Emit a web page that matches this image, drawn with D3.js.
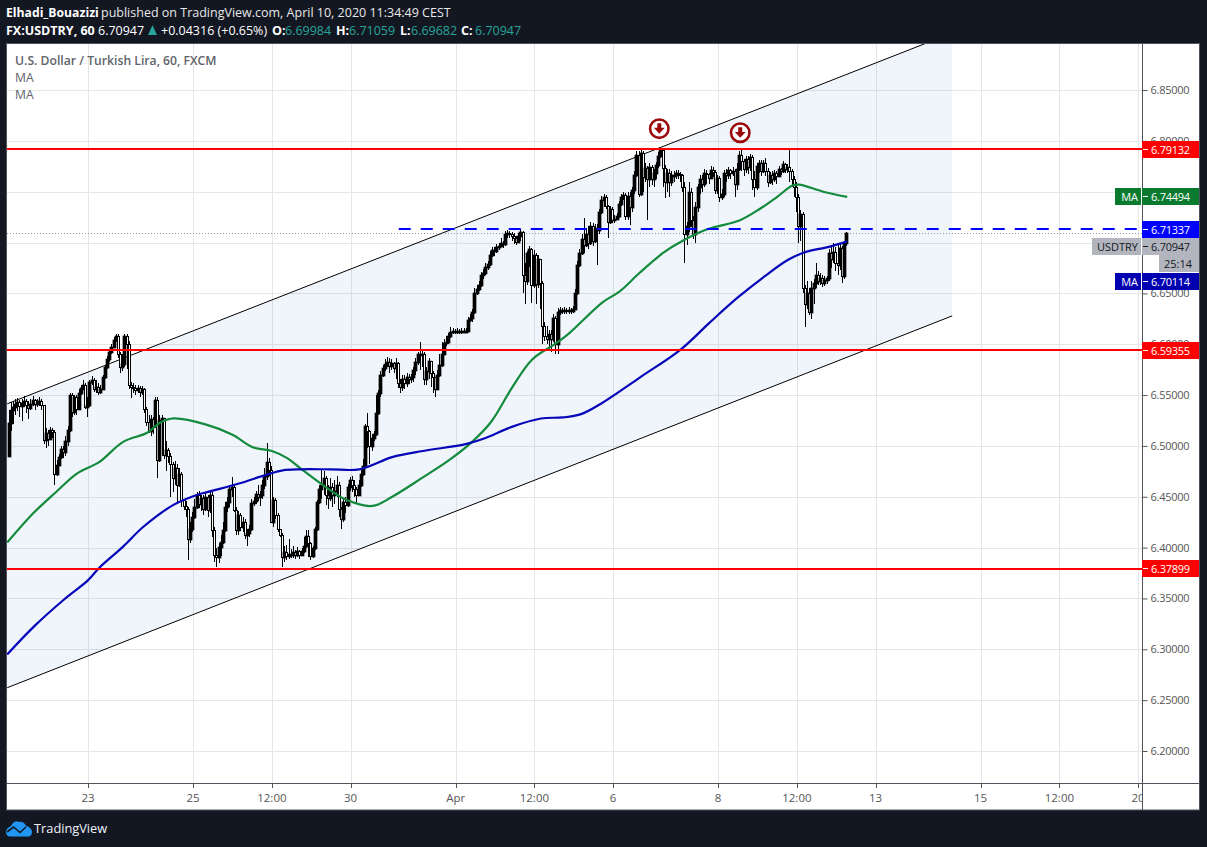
<!DOCTYPE html>
<html><head><meta charset="utf-8">
<script src="https://cdnjs.cloudflare.com/ajax/libs/d3/7.8.5/d3.min.js"></script>
<style>html,body{margin:0;padding:0;background:#131722}svg{display:block}text{font-family:"Open Sans",sans-serif}</style>
</head><body><div id="chart"></div>
<script>
const closes=[
6.523,6.535,6.538,6.541,6.543,6.539,6.542,6.544,6.540,6.537,6.541,6.545,6.541,6.542,6.544,6.540,
6.506,6.513,6.507,6.516,6.514,6.472,6.481,6.489,6.497,6.494,6.505,6.516,6.550,6.533,6.548,6.536,
6.552,6.557,6.560,6.538,6.540,6.563,6.565,6.556,6.558,6.553,6.556,6.568,6.578,6.585,6.592,6.597,
6.604,6.608,6.590,6.578,6.581,6.608,6.600,6.560,6.558,6.557,6.555,6.557,6.553,6.556,6.536,6.524,
6.515,6.526,6.520,6.545,6.486,6.525,6.527,6.491,6.496,6.490,6.482,6.468,6.478,6.462,6.472,6.447,
6.441,6.438,6.408,6.418,6.430,6.440,6.452,6.443,6.449,6.438,6.450,6.437,6.452,6.417,6.393,6.391,
6.401,6.406,6.417,6.440,6.445,6.458,6.460,6.437,6.417,6.432,6.420,6.425,6.412,6.414,6.418,6.444,
6.446,6.453,6.450,6.452,6.462,6.470,6.484,6.476,6.425,6.447,6.432,6.418,6.412,6.391,6.396,6.392,
6.394,6.393,6.396,6.393,6.397,6.393,6.397,6.402,6.411,6.405,6.392,6.400,6.418,6.445,6.458,6.462,
6.468,6.452,6.449,6.460,6.452,6.456,6.462,6.438,6.428,6.445,6.442,6.460,6.466,6.462,6.458,6.452,
6.462,6.472,6.480,6.520,6.515,6.500,6.508,6.512,6.532,6.552,6.570,6.577,6.581,6.583,6.579,6.582,
6.577,6.582,6.562,6.558,6.566,6.562,6.568,6.566,6.568,6.575,6.583,6.590,6.589,6.590,6.566,6.574,
6.584,6.572,6.568,6.556,6.570,6.580,6.590,6.601,6.602,6.608,6.612,6.613,6.612,6.613,6.612,6.613,
6.613,6.613,6.624,6.626,6.632,6.650,6.654,6.658,6.668,6.670,6.676,6.679,6.688,6.693,6.692,6.696,
6.697,6.700,6.699,6.708,6.709,6.708,6.706,6.704,6.701,6.706,6.710,6.668,6.662,6.690,6.694,6.658,
6.688,6.659,6.684,6.660,6.618,6.608,6.605,6.610,6.605,6.626,6.600,6.632,6.634,6.633,6.634,6.633,
6.634,6.633,6.635,6.650,6.678,6.690,6.703,6.698,6.708,6.700,6.716,6.702,6.714,6.712,6.730,6.742,
6.745,6.736,6.720,6.733,6.722,6.723,6.726,6.738,6.745,6.747,6.726,6.746,6.735,6.752,6.766,6.786,
6.748,6.788,6.764,6.773,6.762,6.774,6.762,6.768,6.776,6.785,6.791,6.773,6.760,6.768,6.760,6.766,
6.766,6.768,6.767,6.766,6.755,6.708,6.716,6.750,6.722,6.708,6.735,6.755,6.762,6.758,6.768,6.767,
6.763,6.771,6.769,6.752,6.763,6.745,6.748,6.768,6.766,6.771,6.768,6.770,6.758,6.772,6.786,6.780,
6.772,6.782,6.774,6.784,6.762,6.755,6.775,6.778,6.770,6.778,6.770,6.760,6.766,6.762,6.768,6.765,
6.772,6.770,6.777,6.772,6.774,6.770,6.762,6.755,6.745,6.716,6.728,6.655,6.640,6.650,6.632,6.655,
6.660,6.668,6.662,6.665,6.660,6.663,6.665,6.690,6.684,6.691,6.680,6.678,6.695,6.667,6.69984,6.70947];
const highs=[
6.535,6.543,6.544,6.546,6.547,6.545,6.546,6.549,6.546,6.544,6.546,6.549,6.546,6.546,6.548,6.546,
6.540,6.518,6.516,6.519,6.518,6.516,6.486,6.492,6.500,6.500,6.510,6.520,6.552,6.552,6.550,6.550,
6.556,6.560,6.565,6.562,6.548,6.565,6.569,6.567,6.565,6.562,6.560,6.570,6.580,6.588,6.595,6.600,
6.607,6.610,6.610,6.592,6.590,6.610,6.610,6.603,6.563,6.562,6.560,6.560,6.559,6.559,6.557,6.538,
6.530,6.530,6.528,6.548,6.548,6.530,6.530,6.527,6.505,6.498,6.493,6.484,6.485,6.482,6.478,6.474,
6.447,6.446,6.440,6.425,6.435,6.448,6.455,6.456,6.452,6.452,6.454,6.452,6.455,6.455,6.420,6.400,
6.405,6.412,6.425,6.445,6.450,6.462,6.469,6.462,6.440,6.436,6.434,6.430,6.428,6.418,6.422,6.448,
6.450,6.456,6.462,6.456,6.466,6.478,6.503,6.488,6.480,6.450,6.449,6.434,6.416,6.414,6.402,6.403,
6.408,6.399,6.402,6.398,6.401,6.398,6.400,6.410,6.417,6.417,6.406,6.402,6.420,6.447,6.462,6.476,
6.475,6.470,6.462,6.468,6.464,6.466,6.470,6.465,6.440,6.448,6.450,6.463,6.469,6.470,6.466,6.460,
6.466,6.476,6.487,6.522,6.532,6.516,6.512,6.515,6.550,6.555,6.574,6.580,6.585,6.587,6.586,6.585,
6.583,6.586,6.583,6.566,6.570,6.570,6.572,6.571,6.571,6.578,6.586,6.592,6.602,6.595,6.592,6.578,
6.586,6.584,6.574,6.566,6.575,6.590,6.602,6.605,6.608,6.611,6.617,6.616,6.615,6.616,6.615,6.616,
6.616,6.616,6.627,6.630,6.635,6.655,6.658,6.662,6.671,6.674,6.680,6.682,6.692,6.696,6.696,6.699,
6.700,6.704,6.702,6.711,6.712,6.711,6.710,6.709,6.706,6.709,6.713,6.711,6.680,6.692,6.697,6.695,
6.693,6.690,6.688,6.684,6.662,6.622,6.618,6.614,6.614,6.630,6.628,6.636,6.637,6.636,6.637,6.636,
6.637,6.636,6.638,6.654,6.682,6.694,6.708,6.724,6.714,6.716,6.720,6.719,6.718,6.718,6.733,6.746,
6.748,6.747,6.737,6.736,6.735,6.727,6.729,6.741,6.748,6.750,6.749,6.750,6.750,6.755,6.770,6.790,
6.790,6.793,6.790,6.778,6.775,6.778,6.776,6.772,6.779,6.789,6.794,6.792,6.776,6.772,6.772,6.770,
6.770,6.771,6.771,6.769,6.767,6.760,6.720,6.760,6.754,6.726,6.740,6.758,6.766,6.766,6.772,6.771,
6.768,6.775,6.774,6.771,6.766,6.765,6.753,6.771,6.772,6.774,6.772,6.774,6.772,6.778,6.790,6.792,
6.782,6.785,6.785,6.787,6.786,6.770,6.778,6.781,6.781,6.781,6.783,6.773,6.769,6.770,6.771,6.770,
6.775,6.773,6.780,6.778,6.777,6.792,6.772,6.765,6.760,6.748,6.732,6.730,6.658,6.662,6.655,6.662,
6.664,6.680,6.672,6.670,6.668,6.667,6.667,6.694,6.697,6.700,6.696,6.698,6.699,6.697,6.702,6.71059];
const lows=[
6.490,6.515,6.522,6.530,6.534,6.528,6.525,6.538,6.532,6.526,6.535,6.539,6.535,6.538,6.539,6.535,
6.502,6.498,6.500,6.510,6.508,6.462,6.470,6.480,6.487,6.488,6.490,6.500,6.514,6.528,6.530,6.530,
6.546,6.550,6.555,6.536,6.528,6.538,6.560,6.553,6.552,6.550,6.551,6.555,6.566,6.576,6.583,6.590,
6.600,6.602,6.586,6.572,6.574,6.578,6.576,6.556,6.547,6.552,6.550,6.552,6.548,6.550,6.532,6.520,
6.513,6.510,6.512,6.518,6.468,6.484,6.490,6.487,6.475,6.483,6.450,6.455,6.462,6.445,6.460,6.440,
6.437,6.430,6.388,6.405,6.415,6.428,6.438,6.439,6.436,6.432,6.436,6.430,6.434,6.410,6.386,6.381,
6.385,6.392,6.404,6.415,6.435,6.440,6.450,6.435,6.412,6.412,6.416,6.415,6.408,6.402,6.410,6.416,
6.441,6.443,6.446,6.441,6.448,6.458,6.466,6.470,6.424,6.420,6.428,6.415,6.410,6.381,6.386,6.388,
6.389,6.390,6.390,6.389,6.391,6.389,6.392,6.395,6.400,6.391,6.388,6.390,6.398,6.416,6.443,6.448,
6.452,6.442,6.438,6.446,6.440,6.443,6.450,6.430,6.418,6.425,6.434,6.440,6.456,6.455,6.450,6.443,
6.452,6.460,6.470,6.478,6.498,6.482,6.495,6.505,6.510,6.530,6.548,6.568,6.574,6.578,6.572,6.575,
6.572,6.566,6.557,6.552,6.554,6.556,6.558,6.561,6.562,6.563,6.570,6.580,6.575,6.578,6.560,6.560,
6.566,6.558,6.552,6.548,6.555,6.568,6.578,6.590,6.598,6.600,6.606,6.610,6.610,6.610,6.610,6.610,
6.611,6.611,6.612,6.622,6.622,6.630,6.648,6.652,6.656,6.664,6.668,6.673,6.677,6.686,6.687,6.690,
6.693,6.696,6.695,6.697,6.704,6.704,6.702,6.699,6.698,6.700,6.702,6.650,6.640,6.658,6.676,6.641,
6.655,6.640,6.655,6.635,6.600,6.603,6.600,6.593,6.592,6.602,6.590,6.590,6.629,6.630,6.630,6.630,
6.630,6.630,6.631,6.634,6.648,6.676,6.688,6.690,6.696,6.694,6.698,6.697,6.700,6.678,6.708,6.728,
6.735,6.733,6.704,6.718,6.719,6.719,6.722,6.724,6.736,6.742,6.722,6.722,6.717,6.730,6.748,6.764,
6.745,6.746,6.750,6.760,6.722,6.755,6.757,6.755,6.762,6.773,6.783,6.755,6.744,6.750,6.745,6.756,
6.760,6.762,6.762,6.760,6.750,6.680,6.698,6.710,6.715,6.703,6.700,6.730,6.748,6.750,6.755,6.758,
6.758,6.762,6.764,6.748,6.748,6.740,6.742,6.745,6.760,6.762,6.762,6.765,6.745,6.752,6.770,6.770,
6.765,6.768,6.767,6.770,6.752,6.745,6.752,6.768,6.765,6.768,6.765,6.755,6.758,6.757,6.760,6.758,
6.765,6.766,6.768,6.768,6.768,6.760,6.755,6.745,6.730,6.700,6.702,6.650,6.617,6.635,6.629,6.625,
6.640,6.655,6.658,6.658,6.656,6.657,6.659,6.662,6.675,6.680,6.672,6.668,6.673,6.660,6.664,6.69682];
const firstOpen=6.490;
const firstBar=0.6;

const greenBars=[0,12,22,32,42,53,64,70,76,91,103,112,121,128,134,144,155,167,176,190,202,212,221,231,240,251,257,272,280,289,300,309,320,335,344,352,359,362,373,384];
const greenValues=[6.405,6.434,6.454,6.473,6.484,6.504,6.513,6.523,6.527,6.521,6.511,6.499,6.495,6.488,6.478,6.462,6.447,6.441,6.450,6.469,6.486,6.503,6.523,6.558,6.585,6.601,6.611,6.641,6.652,6.670,6.690,6.702,6.713,6.722,6.733,6.745,6.756,6.757,6.750,6.74494];
const blueBars=[0,13,26,37,42,53,62,76,87,94,106,119,126,134,148,161,176,190,210,219,231,244,254,262,271,289,308,321,334,347,357,364,376,384];
const blueValues=[6.295,6.324,6.349,6.368,6.380,6.401,6.420,6.442,6.452,6.456,6.463,6.472,6.476,6.477,6.477,6.477,6.489,6.495,6.502,6.508,6.519,6.527,6.528,6.531,6.541,6.567,6.595,6.621,6.646,6.668,6.683,6.690,6.696,6.70114];

const channelBars=[0,432];
const channelUpper=[6.5414,6.9061];
const channelLower=[6.2622,6.6279];
const levelLines=[6.79132,6.59355,6.37899];
const dashedLevel=6.71337, dashedStartBar=179;
const lastPrice=6.70947;
const markBars=[297.5,334.5], markPrices=[6.812,6.808];

const priceTicks=[6.20,6.25,6.30,6.35,6.40,6.45,6.50,6.55,6.60,6.65,6.70,6.75,6.80,6.85];
const timeBars=[37,85,121,157,205,241,277,325,361,397,445,481,517];
const timeLabels=["23","25","12:00","30","Apr","12:00","6","8","12:00","13","15","12:00","20"];

const W=1207,H=847,L=7,R=1142,T=44,B=783,AR=1199,AB=810;
const x=d3.scaleLinear().domain([0,518]).range([7.2,7.2+518*2.1875]);
const y=d3.scaleLinear().domain([6.20,6.85]).range([751,90]);
const crisp=p=>Math.round(y(p)-0.4);
const svg=d3.select("#chart").append("svg").attr("width",W).attr("height",H);
const defs=svg.append("defs");
defs.append("clipPath").attr("id","pane").append("rect").attr("x",L).attr("y",T).attr("width",R-L).attr("height",B-T);
defs.append("clipPath").attr("id","taxis").append("rect").attr("x",L).attr("y",B).attr("width",R-L).attr("height",AB-B);

svg.append("rect").attr("width",W).attr("height",H).attr("fill","#131722");
svg.append("rect").attr("x",6.5).attr("y",43.5).attr("width",AR-6).attr("height",AB-43.5).attr("fill","#fff").attr("stroke","#50535e");

const pane=svg.append("g").attr("clip-path","url(#pane)");
pane.selectAll("line.hg").data(priceTicks).join("line").attr("x1",L).attr("x2",R).attr("y1",d=>Math.round(y(d))+.5).attr("y2",d=>Math.round(y(d))+.5).attr("stroke","#e6e6e6");
pane.selectAll("line.vg").data(timeBars).join("line").attr("y1",T).attr("y2",B).attr("x1",d=>Math.round(x(d))+.5).attr("x2",d=>Math.round(x(d))+.5).attr("stroke","#e6e6e6");

// channel
const chPoly=[[channelBars[0],channelUpper[0]],[channelBars[1],channelUpper[1]],[channelBars[1],channelLower[1]],[channelBars[0],channelLower[0]]];
pane.append("path").attr("d","M"+chPoly.map(p=>[x(p[0]),y(p[1])].join(",")).join("L")+"Z").attr("fill","#0558cd").attr("fill-opacity",0.06);
[channelUpper,channelLower].forEach(a=>pane.append("line").attr("x1",x(channelBars[0])).attr("y1",y(a[0])).attr("x2",x(channelBars[1])).attr("y2",y(a[1])).attr("stroke","#000").attr("stroke-width",1));

// last price dotted
pane.append("line").attr("x1",L).attr("x2",R).attr("y1",Math.round(y(lastPrice))+.5).attr("y2",Math.round(y(lastPrice))+.5).attr("stroke","#9598a1").attr("stroke-dasharray","1,2");

// candles
const n=Math.min(closes.length,highs.length,lows.length);
const cg=pane.append("g");
d3.range(n).forEach(i=>{
  const o=i?closes[i-1]:firstOpen,c=closes[i],cx=Math.round(x(i+firstBar));
  const top=Math.round(y(Math.max(o,c))),bot=Math.round(y(Math.min(o,c))),up=c>=o;
  cg.append("line").attr("x1",cx+.5).attr("x2",cx+.5).attr("y1",y(Math.max(highs[i],o,c))).attr("y2",y(Math.min(lows[i],o,c))).attr("stroke","#000").attr("shape-rendering","crispEdges");
  cg.append("rect").attr("x",cx-.5).attr("y",top+.5).attr("width",2).attr("height",Math.max(bot-top,1))
    .attr("fill",up?"#000":"#fff").attr("stroke","#000").attr("stroke-width",up?1.7:1).attr("shape-rendering",up?"auto":"crispEdges");
});

// moving averages
const maLine=d3.line().x(d=>x(d[0])).y(d=>y(d[1])).curve(d3.curveCatmullRom.alpha(.5));
pane.append("path").attr("d",maLine(greenBars.map((b,i)=>[b,greenValues[i]]))).attr("fill","none").attr("stroke","#138a3c").attr("stroke-width",2.2);
pane.append("path").attr("d",maLine(blueBars.map((b,i)=>[b,blueValues[i]]))).attr("fill","none").attr("stroke","#0606b8").attr("stroke-width",2.2);

// levels
pane.selectAll("line.lv").data(levelLines).join("line").attr("x1",L).attr("x2",R).attr("y1",crisp).attr("y2",crisp).attr("stroke","#ff0000").attr("stroke-width",2);
pane.append("line").attr("x1",x(dashedStartBar)).attr("x2",R).attr("y1",crisp(dashedLevel)).attr("y2",crisp(dashedLevel)).attr("stroke","#0000ff").attr("stroke-width",2).attr("stroke-dasharray","12,10");

// arrow marks
markBars.forEach((b,i)=>{
  const g=pane.append("g").attr("transform",`translate(${x(b+firstBar)},${y(markPrices[i])})`);
  g.append("circle").attr("r",9.2).attr("fill","#fff").attr("stroke","#9b0a0a").attr("stroke-width",2.6);
  g.append("path").attr("d","M-2,-5.5H2V-0.8H5.4L0,5L-5.4,-0.8H-2Z").attr("fill","#9b0a0a");
});

// axes frame
svg.append("line").attr("x1",R+.5).attr("x2",R+.5).attr("y1",T).attr("y2",AB).attr("stroke","#50535e");
svg.append("line").attr("x1",L).attr("x2",AR).attr("y1",B+.5).attr("y2",B+.5).attr("stroke","#50535e");

const yAxis=d3.axisRight(y).tickValues(priceTicks).tickSize(5).tickPadding(3).tickFormat(d3.format(".5f"));
const ya=svg.append("g").attr("transform",`translate(${R+.5},0)`).call(yAxis);
ya.select(".domain").remove();
ya.selectAll("text").attr("font-size",11).attr("letter-spacing","-0.25px").attr("fill","#555").attr("font-family","Open Sans");
ya.selectAll("line").attr("stroke","#555");

const tg=svg.append("g").attr("clip-path","url(#taxis)");
timeBars.forEach((b,i)=>{
  tg.append("line").attr("x1",Math.round(x(b))+.5).attr("x2",Math.round(x(b))+.5).attr("y1",B).attr("y2",B+5).attr("stroke","#555");
  tg.append("text").attr("x",x(b)).attr("y",B+19).attr("text-anchor","middle").attr("font-size",11.5).attr("fill","#555").text(timeLabels[i]);
});

// price labels
const tags=[
 {p:levelLines[0],y0:141,fill:"#ff0000",col:"#fff"},
 {p:levelLines[1],y0:342,fill:"#ff0000",col:"#fff"},
 {p:levelLines[2],y0:560,fill:"#ff0000",col:"#fff"},
 {p:greenValues[greenValues.length-1],y0:188,fill:"#0a7a2f",col:"#fff",name:"MA",nx:1115},
 {p:dashedLevel,y0:221,fill:"#0000ff",col:"#fff"},
 {p:lastPrice,y0:238,fill:"#b2b5be",col:"#131722",name:"USDTRY",nx:1092},
 {p:blueValues[blueValues.length-1],y0:273,fill:"#0000b0",col:"#fff",name:"MA",nx:1115}
];
tags.forEach(t=>{
  const x0=t.nx||R;
  svg.append("rect").attr("x",x0).attr("y",t.y0).attr("width",AR-x0).attr("height",17).attr("fill",t.fill);
  svg.append("line").attr("x1",R+1).attr("x2",R+6).attr("y1",t.y0+8.5).attr("y2",t.y0+8.5).attr("stroke",t.col);
  svg.append("text").attr("x",1151).attr("y",t.y0+12.5).attr("font-size",11).attr("letter-spacing","-0.25px").attr("fill",t.col).text(d3.format(".5f")(t.p));
  if(t.name){
    svg.append("line").attr("x1",R-.5).attr("x2",R-.5).attr("y1",t.y0).attr("y2",t.y0+17).attr("stroke","#fff");
    svg.append("text").attr("x",1138).attr("y",t.y0+12.5).attr("text-anchor","end").attr("font-size",11).attr("fill",t.col).text(t.name);
  }
});
svg.append("rect").attr("x",1159).attr("y",255).attr("width",40).attr("height",17).attr("fill","#b2b5be");
svg.append("text").attr("x",1164).attr("y",267.5).attr("font-size",11).attr("fill","#131722").text("25:14");

// pane legend
[["U.S. Dollar / Turkish Lira, 60, FXCM",65,600],["MA",82,400],["MA",99,400]].forEach(a=>
  svg.append("text").attr("x",15).attr("y",a[1]).attr("font-size",12.2).attr("font-weight",a[2]).attr("fill","#60636b").text(a[0]));

// header
const hd=svg.append("g").attr("fill","#fff").attr("font-size",12.5);
hd.append("text").attr("x",6).attr("y",17).attr("font-weight",700).attr("font-size",12.2).text("Elhadi_Bouazizi");
hd.append("text").attr("x",101).attr("y",17).attr("fill","#e8e8e8").text("published on TradingView.com, April 10, 2020 11:34:49 CEST");
const row=[["FX:USDTRY, 60",6,700,"#fff"],["6.70947",98,400,"#fff"],["+0.04316 (+0.65%)",161,400,"#fff"],["O:",272,700,"#fff"],["6.69984",285,400,"#26a69a"],["H:",336,700,"#fff"],["6.71059",349,400,"#26a69a"],["L:",400,700,"#fff"],["6.69682",411,400,"#26a69a"],["C:",461,700,"#fff"],["6.70947",475,400,"#26a69a"]];
row.forEach(r=>hd.append("text").attr("x",r[1]).attr("y",34.5).attr("font-weight",r[2]).attr("fill",r[3]).text(r[0]));
svg.append("path").attr("d","M148,35L152.5,25L157,35Z").attr("fill","#26a69a");

// footer logo
svg.append("path").attr("d","M6,832C6,829 8,827.5 11,826C13,822 16,820 19,822C22,821 25,823 26,826C29,826.5 32,829 32,832C32,835 30,836.5 28,836.5H10C8,836.5 6,835 6,832Z").attr("fill","#2196f3");
svg.append("path").attr("d","M7,832L13.5,827L20,832.5L26,827").attr("fill","none").attr("stroke","#131722").attr("stroke-width",1.6);
svg.append("text").attr("x",34).attr("y",833).attr("font-size",12.8).attr("fill","#f0f3fa").text("TradingView");
</script></body></html>
